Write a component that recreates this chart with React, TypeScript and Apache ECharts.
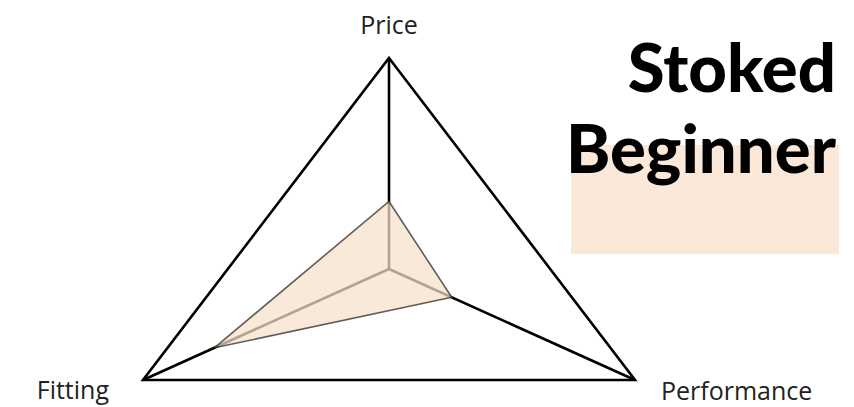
import React, { useEffect, useRef } from "react";
import * as echarts from "echarts";

// ---- data ----
const indicators: string[] = ["Price", "Performance", "Fitting"];
const maxValue = 10;
const scores: number[] = [3.2, 2.55, 7.1];
const titleLines: string[] = ["Stoked", "Beginner"];

// ---- layout constants (axis directions in grid units) ----
const AXIS_DIRS: [number, number][] = [
  [0, 1],
  [1, -0.526],
  [-1, -0.526],
];
const LABEL_OFFSETS: { dx: number; dy: number; align: string }[] = [
  { dx: 0, dy: -34, align: "center" },
  { dx: 26, dy: 10, align: "left" },
  { dx: -34, dy: 9, align: "right" },
];

export default function App() {
  const ref = useRef<HTMLDivElement>(null);
  useEffect(() => {
    if (!ref.current) return;
    const chart = echarts.init(ref.current, null, { renderer: "svg" });

    const pointFor = (api: any, i: number, v: number) =>
      api.coord([(AXIS_DIRS[i][0] * v) / maxValue, (AXIS_DIRS[i][1] * v) / maxValue]);

    const option: any = {
      animation: false,
      backgroundColor: "#ffffff",
      grid: { left: 143, right: 219, top: 58, bottom: 27, containLabel: false },
      xAxis: { type: "value", min: -1, max: 1, show: false },
      yAxis: { type: "value", min: -0.526, max: 1, show: false },
      graphic: [
        {
          type: "rect",
          shape: { x: 571, y: 145, width: 268, height: 109 },
          style: { fill: "#fae8d8" },
          z: 0,
        },
        ...titleLines.map((t, i) => ({
          type: "text",
          x: 836,
          y: 66 + i * 81,
          style: {
            text: t,
            font: "900 67px Lato",
            fill: "#000000",
            textAlign: "right",
            align: "right",
            textVerticalAlign: "middle",
            verticalAlign: "middle",
          },
          z: 1,
        })),
      ],
      series: [
        {
          type: "custom",
          coordinateSystem: "cartesian2d",
          data: [indicators.map(() => maxValue)],
          z: 2,
          silent: true,
          renderItem: (params: any, api: any) => {
            const center = api.coord([0, 0]);
            const verts = indicators.map((_, i) => pointFor(api, i, maxValue));
            const children: any[] = [
              {
                type: "polygon",
                shape: { points: verts },
                style: { fill: "none", stroke: "#000000", lineWidth: 2.6, lineJoin: "miter" },
              },
              ...verts.map((p: number[]) => ({
                type: "line",
                shape: { x1: center[0], y1: center[1], x2: p[0], y2: p[1] },
                style: { stroke: "#000000", lineWidth: 2.6 },
              })),
              ...indicators.map((name, i) => ({
                type: "text",
                style: {
                  text: name,
                  x: verts[i][0] + LABEL_OFFSETS[i].dx,
                  y: verts[i][1] + LABEL_OFFSETS[i].dy,
                  font: "25px 'Open Sans'",
                  fill: "#222222",
                  textAlign: LABEL_OFFSETS[i].align,
                  align: LABEL_OFFSETS[i].align,
                  textVerticalAlign: "middle",
                  verticalAlign: "middle",
                },
              })),
            ];
            return { type: "group", children };
          },
        },
        {
          type: "custom",
          coordinateSystem: "cartesian2d",
          data: [scores],
          z: 3,
          silent: true,
          renderItem: (params: any, api: any) => {
            const pts = indicators.map((_, i) => pointFor(api, i, api.value(i)));
            return {
              type: "polygon",
              shape: { points: pts },
              style: {
                fill: "rgba(247,225,203,0.72)",
                stroke: "rgba(60,55,50,0.8)",
                lineWidth: 1.6,
              },
            };
          },
        },
      ],
    };
    chart.setOption(option);
    return () => chart.dispose();
  }, []);
  return (
    <div
      ref={ref}
      style={{ position: "fixed", left: 0, top: 0, width: 854, height: 407 }}
    />
  );
}
